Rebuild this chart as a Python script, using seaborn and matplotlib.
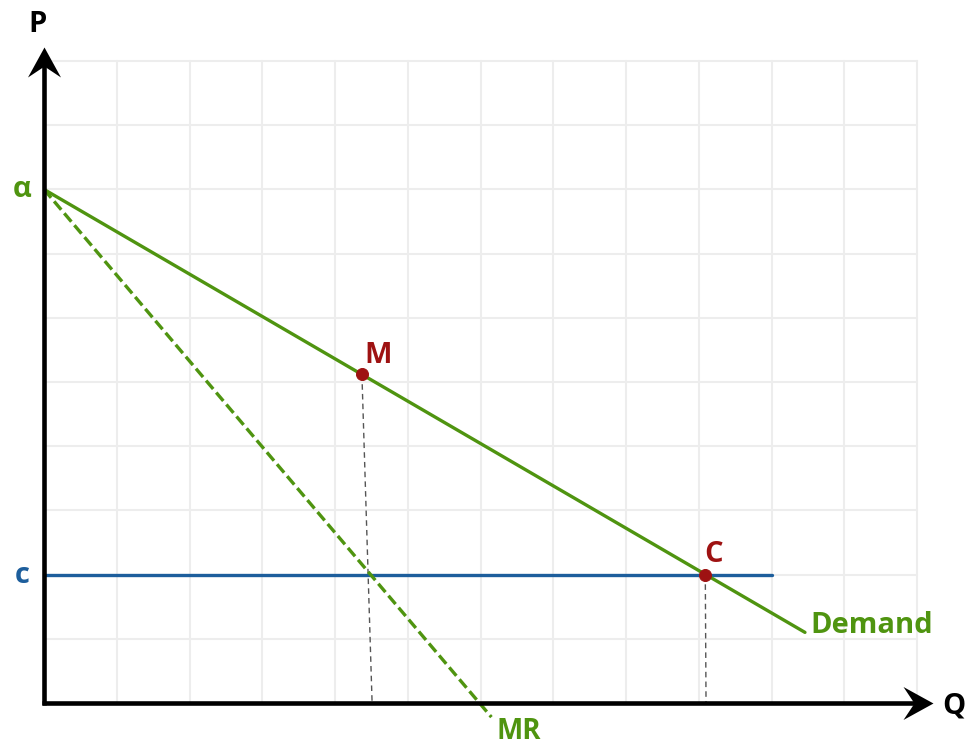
import matplotlib
matplotlib.use("Agg")
import matplotlib.pyplot as plt
from matplotlib.path import Path
import seaborn as sns
import pandas as pd

sns.set_style("white")
plt.rcParams['font.family'] = ['Open Sans', 'DejaVu Sans']

# ---- data (in grid units) ----
alpha = 8.0
cost = 2.0
demand_q = [0.0, 10.46]
demand_p = [8.0, 1.10]
mr_q = [0.0, 6.15]
mr_p = [8.0, -0.22]
cost_q = [0.0, 10.0]
cost_p = [cost, cost]
m_drop_q = [4.37, 4.51]
m_drop_p = [5.117, 0.0]
c_drop_q = [9.09, 9.10]
c_drop_p = [2.0, 0.0]
point_labels = ["M", "C"]
point_q = [4.37, 9.09]
point_p = [5.117, 2.0]

GREEN = "#4f9410"
BLUE = "#1d5e9c"
RED = "#9e1212"

W, H = 971, 747
fig = plt.figure(figsize=(W / 100, H / 100), dpi=100)
x0, x1, y0, y1 = 44, 917, 703, 61
ax = fig.add_axes([x0 / W, (H - y0) / H, (x1 - x0) / W, (y0 - y1) / H])
ax.set_xlim(0, 12)
ax.set_ylim(0, 10)
ax.set_xticks(range(0, 13))
ax.set_yticks(range(0, 11))
ax.tick_params(length=0, labelbottom=False, labelleft=False)
ax.grid(True, color="#ededed", linewidth=1.5)
for gl in ax.get_xgridlines() + ax.get_ygridlines():
    gl.set_clip_on(False)
for s in ax.spines.values():
    s.set_visible(False)
ax.set_axisbelow(True)

# lines
sns.lineplot(x=m_drop_q, y=m_drop_p, ax=ax, color="#555555", lw=1.0,
             sort=False).lines[-1].set_dashes((4, 3))
sns.lineplot(x=c_drop_q, y=c_drop_p, ax=ax, color="#555555", lw=1.0,
             sort=False).lines[-1].set_dashes((4, 3))
sns.lineplot(x=cost_q, y=cost_p, ax=ax, color=BLUE, lw=2.4, sort=False)
l = sns.lineplot(x=mr_q, y=mr_p, ax=ax, color=GREEN, lw=2.4, sort=False).lines[-1]
l.set_dashes((3.3, 1.4))
l.set_clip_on(False)
sns.lineplot(x=demand_q, y=demand_p, ax=ax, color=GREEN, lw=2.4, sort=False)

pts = pd.DataFrame({"q": point_q, "p": point_p, "lab": point_labels})
sns.scatterplot(data=pts, x="q", y="p", ax=ax, color=RED, s=75,
                edgecolor=RED, zorder=5, legend=False)
ax.set_xlabel("")
ax.set_ylabel("")

# axes with stealth arrowheads
ax.plot([0, 0], [-0.03, 10.0], color="black", lw=3.3, clip_on=False,
        solid_capstyle="butt")
ax.plot([-0.03, 12.0], [0, 0], color="black", lw=3.3, clip_on=False,
        solid_capstyle="butt")
head_right = Path([(0, 0), (-30, 16.5), (-19, 0), (-30, -16.5), (0, 0)],
                  [Path.MOVETO, Path.LINETO, Path.LINETO, Path.LINETO, Path.CLOSEPOLY])
head_up = Path([(0, 0), (16.5, -30), (0, -19), (-16.5, -30), (0, 0)],
               [Path.MOVETO, Path.LINETO, Path.LINETO, Path.LINETO, Path.CLOSEPOLY])
msz = 2 * 30 * 0.72
ax.plot([12.22], [0], marker=head_right, markersize=msz, color="black",
        markeredgewidth=0, clip_on=False, linestyle="none")
ax.plot([0], [10.22], marker=head_up, markersize=msz, color="black",
        markeredgewidth=0, clip_on=False, linestyle="none")

fs = 21
tk = dict(fontweight="bold", clip_on=False)
ax.text(-0.09, 10.45, "P", color="black", ha="center", va="baseline", fontsize=fs, **tk)
ax.text(12.51, -0.17, "Q", color="black", ha="center", va="baseline", fontsize=fs, **tk)
ax.text(-0.30, 7.88, "α", color=GREEN, ha="center", va="baseline", fontsize=fs, **tk)
ax.text(-0.30, 1.87, "c", color=BLUE, ha="center", va="baseline", fontsize=fs, **tk)
ax.text(4.59, 5.30, point_labels[0], color=RED, ha="center", va="baseline", fontsize=fs, **tk)
ax.text(9.20, 2.20, point_labels[1], color=RED, ha="center", va="baseline", fontsize=fs, **tk)
ax.text(10.53, 1.09, "Demand", color=GREEN, ha="left", va="baseline", fontsize=fs, **tk)
ax.text(6.53, -0.555, "MR", color=GREEN, ha="center", va="baseline", fontsize=20, **tk)

fig.savefig("out.png", dpi=100)
